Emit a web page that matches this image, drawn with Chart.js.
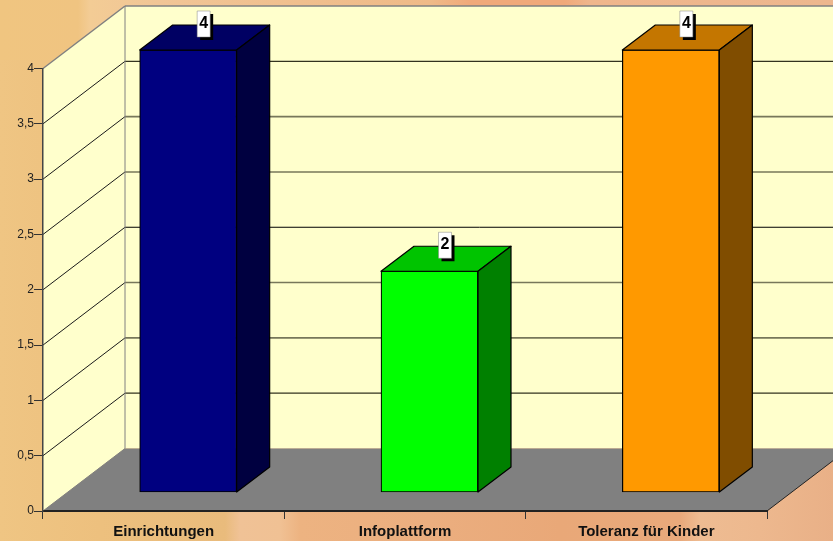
<!DOCTYPE html>
<html>
<head>
<meta charset="utf-8">
<style>
  html, body { margin: 0; padding: 0; width: 833px; height: 541px; overflow: hidden; }
  body {
    background:
      linear-gradient(90deg, #f0c580 0, #f0c481 78px, #f3cc95 90px, #f1c596 160px, #f0bf8e 300px, #efba88 430px, #f0a97a 470px, #f0a97a 565px, #efb68c 590px, #edb78e 833px) top / 100% 60px no-repeat,
      linear-gradient(90deg, #efc583 0, #edc07e 100px, #e9bb7c 225px, #f0c296 240px, #f0c194 280px, #edb381 300px, #ebae7f 430px, #e9a878 560px, #e9a97b 680px, #eebc92 700px, #edb88e 760px, #e9b087 833px);
  }
  canvas { display: block; }
</style>
</head>
<body>
<canvas id="chart" width="833" height="541"></canvas>
<script src="https://cdn.jsdelivr.net/npm/chart.js@4"></script>
<script>
const categories = ["Einrichtungen", "Infoplattform", "Toleranz für Kinder"];
const values = [4, 2, 4];
const barColors = ["#000080", "#00ff00", "#ff9900"];

// depth of the fake 3d box, and where the bars sit inside it
const depthX = 82;
const depthY = -62.5;
const barOffX = 24.5;
const barOffY = -18.5;
const barDepthX = 33;
const barDepthY = -25;

function shade(hex, f) {
  const n = parseInt(hex.slice(1), 16);
  const r = Math.round(((n >> 16) & 255) * f);
  const g = Math.round(((n >> 8) & 255) * f);
  const b = Math.round((n & 255) * f);
  return "rgb(" + r + "," + g + "," + b + ")";
}

function poly(ctx, pts, fill, stroke, lw) {
  ctx.beginPath();
  pts.forEach((p, i) => (i ? ctx.lineTo(p[0], p[1]) : ctx.moveTo(p[0], p[1])));
  ctx.closePath();
  if (fill) {
    ctx.fillStyle = fill;
    ctx.fill();
  }
  if (stroke) {
    ctx.strokeStyle = stroke;
    ctx.lineWidth = lw || 1;
    ctx.lineJoin = "round";
    ctx.stroke();
  }
}

// back wall lines are not all the same in the picture
function backLineStyle(v) {
  if (v === 4) return ["#808080", 1.5];
  if (v === 2) return ["#000000", 1];
  if (v === 3.5 || v === 0.5) return ["#33331f", 1.2];
  return ["#77775a", 1.6];
}

const box3d = {
  id: "box3d",
  beforeDraw(chart) {
    const ctx = chart.ctx;
    const a = chart.chartArea;
    const y = chart.scales.y;
    const far = a.right + depthX;
    ctx.save();
    // back wall
    poly(ctx, [[a.left + depthX, a.top + depthY], [far, a.top + depthY], [far, a.bottom + depthY], [a.left + depthX, a.bottom + depthY]], "#ffffcc");
    // side wall
    poly(ctx, [[a.left, a.top], [a.left + depthX, a.top + depthY], [a.left + depthX, a.bottom + depthY], [a.left, a.bottom]], "#ffffcc");
    // floor
    poly(ctx, [[a.left, a.bottom], [a.left + depthX, a.bottom + depthY], [far, a.bottom + depthY], [a.right, a.bottom]], "#808080");

    // grid lines follow the y scale
    y.ticks.forEach((t) => {
      if (t.value <= 0) return;
      const py = y.getPixelForValue(t.value);
      const s = backLineStyle(t.value);
      ctx.strokeStyle = t.value === 4 ? "#808080" : "#1a1a1a";
      ctx.lineWidth = t.value === 4 ? 1.5 : 1;
      ctx.beginPath();
      ctx.moveTo(a.left, py);
      ctx.lineTo(a.left + depthX, py + depthY);
      ctx.stroke();
      ctx.strokeStyle = s[0];
      ctx.lineWidth = s[1];
      ctx.beginPath();
      ctx.moveTo(a.left + depthX, py + depthY);
      ctx.lineTo(far, py + depthY);
      ctx.stroke();
    });
    ctx.strokeStyle = "#808080";
    ctx.lineWidth = 1;
    ctx.beginPath();
    ctx.moveTo(a.left + depthX, a.top + depthY);
    ctx.lineTo(a.left + depthX, a.bottom + depthY);
    ctx.lineTo(a.left, a.bottom);
    ctx.stroke();
    ctx.strokeStyle = "#222222";
    ctx.beginPath();
    ctx.moveTo(a.right, a.bottom);
    ctx.lineTo(far, a.bottom + depthY);
    ctx.stroke();
    ctx.restore();
  },
  // bars are drawn by Chart.js, just moved into the box
  beforeDatasetsDraw(chart) {
    chart.ctx.save();
    chart.ctx.translate(barOffX, barOffY);
  },
  afterDatasetsDraw(chart) {
    const ctx = chart.ctx;
    const bars = chart.getDatasetMeta(0).data;
    bars.forEach((bar, i) => {
      const l = bar.x - bar.width / 2;
      const r = bar.x + bar.width / 2;
      const col = barColors[i];
      poly(ctx, [[l, bar.y], [l + barDepthX, bar.y + barDepthY], [r + barDepthX, bar.y + barDepthY], [r, bar.y]], shade(col, 0.77), "#000", 1.2);
      poly(ctx, [[r, bar.y], [r + barDepthX, bar.y + barDepthY], [r + barDepthX, bar.base + barDepthY], [r, bar.base]], shade(col, 0.5), "#000", 1.2);
    });
    // value tags sit on the top face of each bar
    bars.forEach((bar, i) => {
      const cx = bar.x + barDepthX / 2 - 1;
      const bottom = bar.y + barDepthY / 2 - 0.5;
      ctx.fillStyle = "#000";
      ctx.fillRect(cx - 6.5 + 3, bottom - 26 + 3, 13, 26);
      ctx.fillStyle = "#fff";
      ctx.fillRect(cx - 6.5, bottom - 26, 13, 26);
      ctx.strokeStyle = "#808080";
      ctx.lineWidth = 0.5;
      ctx.strokeRect(cx - 6.5, bottom - 26, 13, 26);
      ctx.fillStyle = "#000";
      ctx.font = "bold 16px 'Liberation Sans'";
      ctx.textAlign = "center";
      ctx.textBaseline = "middle";
      ctx.fillText(String(values[i]), cx, bottom - 13.5);
    });
    ctx.restore();
  },
};

new Chart(document.getElementById("chart").getContext("2d"), {
  type: "bar",
  data: {
    labels: categories,
    datasets: [
      {
        data: values,
        backgroundColor: barColors,
        borderColor: "#000000",
        borderWidth: 1.2,
        borderSkipped: false,
        barThickness: 97,
        clip: false,
      },
    ],
  },
  options: {
    responsive: false,
    animation: false,
    devicePixelRatio: 1,
    layout: { padding: { top: 68.5, right: 66, left: 0, bottom: 0 } },
    plugins: { legend: { display: false }, tooltip: { enabled: false } },
    scales: {
      x: {
        afterFit(s) {
          s.height = 30;
        },
        grid: { drawOnChartArea: false, tickLength: 8, color: "#333333" },
        border: { color: "#222222", width: 2 },
        ticks: {
          color: "#111111",
          maxRotation: 0,
          padding: 4,
          font: { family: "'Liberation Sans'", size: 15, weight: "bold" },
        },
      },
      y: {
        min: 0,
        max: 4,
        afterFit(s) {
          s.width = 43;
        },
        grid: { drawOnChartArea: false, tickLength: 9, color: "#333333" },
        border: { color: "#444444", width: 1.5 },
        ticks: {
          stepSize: 0.5,
          color: "#222222",
          padding: 0,
          font: { family: "'Liberation Sans'", size: 12 },
          callback: (v) => String(v).replace(".", ","),
        },
      },
    },
  },
  plugins: [box3d],
});
</script>
</body>
</html>
